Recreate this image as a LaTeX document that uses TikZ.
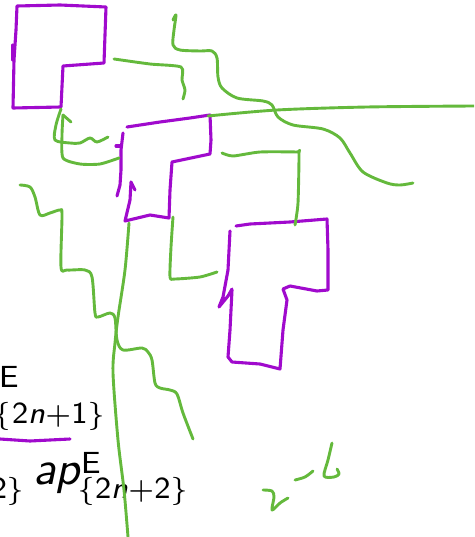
\documentclass[tikz,border=0pt]{standalone}
\usepackage{amsmath,amssymb}
\usepackage{graphicx}
\usepackage{xcolor}
\usepackage{tikz}
\usetikzlibrary{calc}
\definecolor{figpurple}{RGB}{160,10,205}
\definecolor{figgreen}{RGB}{100,185,60}
\tikzset{
  pp/.style ={draw=figpurple, line width=3.1pt, line cap=round, line join=round},
  pg/.style ={draw=figgreen, line width=2.9pt, line cap=round, line join=round},
  lab/.style ={font=\fontsize{10}{12}\selectfont, inner sep=0pt, outer sep=0pt},
  labs/.style ={font=\fontsize{6.5}{8}\selectfont, inner sep=0pt, outer sep=0pt},
}
\newcommand\sfit[1]{\textsf{\slshape #1}}
\newcommand\sfup[1]{\textsf{#1}}
\newcommand\figbig[1]{\scalebox{4.7}{#1}}

\begin{document}
\begin{tikzpicture}[x=1pt,y=-1pt]
  \useasboundingbox (0,0) rectangle (474,537);
  \clip (0,0) rectangle (474,537);
  % formula pieces
  \node[labs,anchor=base west] (topsup) at (-1,387) {\figbig{\sfup{E}}};
  \node[labs,anchor=base west] (topsub) at (-6,423)
    {\figbig{$\{\sfup{2}\sfit{n}{+}\sfup{1}\}$}};
  \node[labs,anchor=base east] (lowtail) at (25,498) {\figbig{$\sfup{2}\}$}};
  \node[lab,anchor=base west] (lowap) at (33,484) {\figbig{\sfit{ap}}};
  \node[labs,anchor=base west] (lowsup) at (81,473) {\figbig{\sfup{E}}};
  \node[labs,anchor=base west] (lowsub) at (77,498)
    {\figbig{$\{\sfup{2}\sfit{n}{+}\sfup{2}\}$}};
  \draw[pp] (0,439) -- (30,441) -- (70,439);
  % purple blocks
  \draw[pp] (17,6) -- (60,5) -- (106,7) -- (104,63) -- (63,66) -- (61,107)
    -- (13,108) -- (14,60) -- (16,30) -- cycle;
  \draw[pp] (13,45) -- (13,60);
  \draw[pp] (127,127) -- (160,122) -- (190,118) -- (210,115) -- (211,140)
    -- (210,154) -- (172,162) -- (170,190) -- (169,218) -- (150,215)
    -- (125,221) -- (130,200) -- (131,182) -- (135,190);
  \draw[pp] (123,133) -- (121,150) -- (121,170) -- (120,185) -- (117,196);
  \draw[pp] (116,146) -- (120,146);
  \draw[pp] (230,231) -- (228,270) -- (223,297) -- (219,307) -- (228,296)
    -- (232,289);
  \draw[pp] (232,290) -- (230,330) -- (228,357) -- (232,362) -- (260,364)
    -- (280,369) -- (283,330) -- (287,300) -- (283,289) -- (290,286)
    -- (317,291) -- (328,290) -- (328,250) -- (327,219) -- (290,222)
    -- (250,224) -- (236,226);
  % green strokes
  \draw[pg] plot[smooth,tension=0.5] coordinates {(61,109) (56,125) (55,140)
    (70,143) (80,143) (90,138) (97,142) (108,137)};
  \draw[pg] plot[smooth,tension=0.4] coordinates {(119,158) (100,164) (80,164)
    (63,158) (62,135) (63,115)};
  \draw[pg] (63,115) -- (71,122);
  \draw[pg] plot[smooth,tension=0.4] coordinates {(114,59) (150,64) (181,67)
    (182,80) (185,90) (183,99)};
  \draw[pg] plot[smooth,tension=0.5] coordinates {(173,20) (176,15) (174,30)
    (173,45) (180,50) (200,51) (212,51) (217,58) (218,77) (222,88) (237,98)
    (263,101) (272,105) (278,117) (293,125) (323,129) (340,138) (350,153)
    (363,172) (387,183) (400,185) (413,183)};
  \draw[pg] plot[smooth] coordinates {(208,116) (277,110) (367,107) (474,106)};
  \draw[pg] plot[smooth,tension=0.4] coordinates {(295,225) (298,203) (299,153)
    (297,152) (260,152) (233,156) (222,153)};
  \draw[pg] plot[smooth,tension=0.4] coordinates {(173,217) (171,247) (170,277)
    (175,279) (200,277) (217,272)};
  \draw[pg] plot[smooth] coordinates {(129,223) (125,270) (118,317) (115,343)
    (113,373) (118,440) (124,490) (128,537)};
  \draw[pg] plot[smooth,tension=0.5] coordinates {(20,185) (30,187) (35,197)
    (40,215) (50,213) (60,210) (62,215) (61,267) (67,270) (85,270) (92,277)
    (95,313) (98,317) (110,313) (115,318) (117,340) (123,350) (142,348)
    (148,352) (152,360) (155,383) (160,388) (170,390) (177,394) (183,413)
    (193,439)};
  \draw[pg] plot[smooth,tension=0.5] coordinates {(263,490) (272,491) (274,497)
    (272,510) (280,503) (288,498)};
  \draw[pg] plot[smooth] coordinates {(295,480) (305,477) (313,471)};
  \draw[pg] plot[smooth,tension=0.5] coordinates {(332,443) (328,460) (324,476)
    (334,477) (339,474) (337,469)};
\end{tikzpicture}
\end{document}
